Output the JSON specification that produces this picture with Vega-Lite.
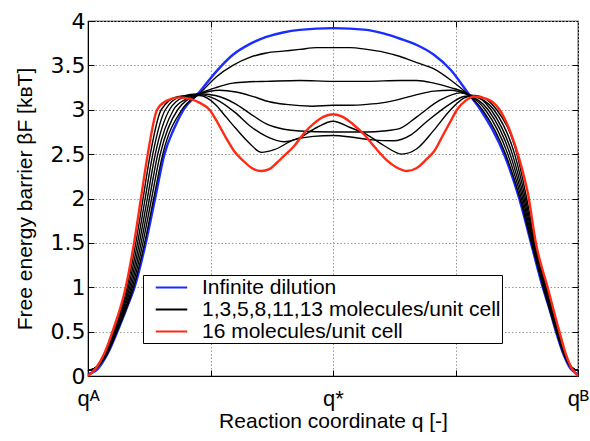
{
"$schema": "https://vega.github.io/schema/vega-lite/v6.json",
"width": 490, "height": 355,
"autosize": {"type": "none"},
"padding": {"left": 88, "top": 21, "right": 12, "bottom": 65},
"background": "white",
"config": {
 "font": "Liberation Sans",
 "view": {"stroke": "#000", "strokeWidth": 1.2},
 "axis": {"domainColor": "#000", "tickColor": "#000", "tickSize": -6, "labelColor": "#000", "titleColor": "#000", "titleFontWeight": "normal", "labelFontSize": 21, "titleFontSize": 21, "gridColor": "#999", "gridDash": [1.5, 2], "gridWidth": 1}
},
"datasets": {"d": [
{"s":"i","c":"blue","q":0,"F":0.02},{"s":"i","c":"blue","q":0.02,"F":0.08},{"s":"i","c":"blue","q":0.04,"F":0.25},{"s":"i","c":"blue","q":0.06,"F":0.5},{"s":"i","c":"blue","q":0.08,"F":0.78},{"s":"i","c":"blue","q":0.095,"F":1.0},{"s":"i","c":"blue","q":0.118,"F":1.5},{"s":"i","c":"blue","q":0.137,"F":2.0},{"s":"i","c":"blue","q":0.156,"F":2.5},{"s":"i","c":"blue","q":0.175,"F":2.78},{"s":"i","c":"blue","q":0.195,"F":3.0},{"s":"i","c":"blue","q":0.2275,"F":3.2},{"s":"i","c":"blue","q":0.2616,"F":3.43},{"s":"i","c":"blue","q":0.2957,"F":3.62},{"s":"i","c":"blue","q":0.33,"F":3.74},{"s":"i","c":"blue","q":0.364,"F":3.82},{"s":"i","c":"blue","q":0.398,"F":3.87},{"s":"i","c":"blue","q":0.432,"F":3.9},{"s":"i","c":"blue","q":0.5,"F":3.92},{"s":"i","c":"blue","q":0.569,"F":3.9},{"s":"i","c":"blue","q":0.603,"F":3.86},{"s":"i","c":"blue","q":0.637,"F":3.8},{"s":"i","c":"blue","q":0.671,"F":3.73},{"s":"i","c":"blue","q":0.706,"F":3.62},{"s":"i","c":"blue","q":0.74,"F":3.45},{"s":"i","c":"blue","q":0.774,"F":3.2},{"s":"i","c":"blue","q":0.801,"F":3.0},{"s":"i","c":"blue","q":0.825,"F":2.78},{"s":"i","c":"blue","q":0.849,"F":2.5},{"s":"i","c":"blue","q":0.88,"F":2.0},{"s":"i","c":"blue","q":0.904,"F":1.5},{"s":"i","c":"blue","q":0.928,"F":1.0},{"s":"i","c":"blue","q":0.942,"F":0.75},{"s":"i","c":"blue","q":0.955,"F":0.5},{"s":"i","c":"blue","q":0.97,"F":0.25},{"s":"i","c":"blue","q":0.985,"F":0.08},{"s":"i","c":"blue","q":1,"F":0.02},

{"s":"m","c":"k1","q":0,"F":0.06},{"s":"m","c":"k1","q":0.018,"F":0.1},{"s":"m","c":"k1","q":0.0393,"F":0.25},{"s":"m","c":"k1","q":0.059,"F":0.5},{"s":"m","c":"k1","q":0.0932,"F":1},{"s":"m","c":"k1","q":0.1156,"F":1.5},{"s":"m","c":"k1","q":0.1341,"F":2},{"s":"m","c":"k1","q":0.1526,"F":2.5},{"s":"m","c":"k1","q":0.1914,"F":3},{"s":"m","c":"k1","q":0.2275,"F":3.18},{"s":"m","c":"k1","q":0.2616,"F":3.37},{"s":"m","c":"k1","q":0.2957,"F":3.5},{"s":"m","c":"k1","q":0.33,"F":3.59},{"s":"m","c":"k1","q":0.364,"F":3.64},{"s":"m","c":"k1","q":0.398,"F":3.66},{"s":"m","c":"k1","q":0.432,"F":3.68},{"s":"m","c":"k1","q":0.467,"F":3.7},{"s":"m","c":"k1","q":0.5,"F":3.7},{"s":"m","c":"k1","q":0.535,"F":3.7},{"s":"m","c":"k1","q":0.569,"F":3.68},{"s":"m","c":"k1","q":0.603,"F":3.65},{"s":"m","c":"k1","q":0.637,"F":3.6},{"s":"m","c":"k1","q":0.671,"F":3.53},{"s":"m","c":"k1","q":0.706,"F":3.46},{"s":"m","c":"k1","q":0.74,"F":3.335},{"s":"m","c":"k1","q":0.774,"F":3.18},{"s":"m","c":"k1","q":0.8049,"F":3},{"s":"m","c":"k1","q":0.8521,"F":2.5},{"s":"m","c":"k1","q":0.8818,"F":2},{"s":"m","c":"k1","q":0.905,"F":1.5},{"s":"m","c":"k1","q":0.929,"F":1},{"s":"m","c":"k1","q":0.9557,"F":0.5},{"s":"m","c":"k1","q":0.9705,"F":0.25},{"s":"m","c":"k1","q":0.985,"F":0.1},{"s":"m","c":"k1","q":1,"F":0.06},

{"s":"m","c":"k2","q":0,"F":0.06},{"s":"m","c":"k2","q":0.018,"F":0.1},{"s":"m","c":"k2","q":0.0383,"F":0.25},{"s":"m","c":"k2","q":0.0575,"F":0.5},{"s":"m","c":"k2","q":0.0905,"F":1},{"s":"m","c":"k2","q":0.112,"F":1.5},{"s":"m","c":"k2","q":0.1298,"F":2},{"s":"m","c":"k2","q":0.1475,"F":2.5},{"s":"m","c":"k2","q":0.183,"F":3},{"s":"m","c":"k2","q":0.2275,"F":3.18},{"s":"m","c":"k2","q":0.2616,"F":3.25},{"s":"m","c":"k2","q":0.2957,"F":3.3},{"s":"m","c":"k2","q":0.33,"F":3.315},{"s":"m","c":"k2","q":0.364,"F":3.32},{"s":"m","c":"k2","q":0.432,"F":3.33},{"s":"m","c":"k2","q":0.5,"F":3.32},{"s":"m","c":"k2","q":0.569,"F":3.32},{"s":"m","c":"k2","q":0.637,"F":3.33},{"s":"m","c":"k2","q":0.671,"F":3.33},{"s":"m","c":"k2","q":0.706,"F":3.3},{"s":"m","c":"k2","q":0.74,"F":3.25},{"s":"m","c":"k2","q":0.774,"F":3.18},{"s":"m","c":"k2","q":0.8108,"F":3},{"s":"m","c":"k2","q":0.8567,"F":2.5},{"s":"m","c":"k2","q":0.8845,"F":2},{"s":"m","c":"k2","q":0.9065,"F":1.5},{"s":"m","c":"k2","q":0.9305,"F":1},{"s":"m","c":"k2","q":0.9567,"F":0.5},{"s":"m","c":"k2","q":0.9712,"F":0.25},{"s":"m","c":"k2","q":0.986,"F":0.1},{"s":"m","c":"k2","q":1,"F":0.06},

{"s":"m","c":"k3","q":0,"F":0.06},{"s":"m","c":"k3","q":0.018,"F":0.1},{"s":"m","c":"k3","q":0.0372,"F":0.25},{"s":"m","c":"k3","q":0.056,"F":0.5},{"s":"m","c":"k3","q":0.0878,"F":1},{"s":"m","c":"k3","q":0.1084,"F":1.5},{"s":"m","c":"k3","q":0.1254,"F":2},{"s":"m","c":"k3","q":0.1424,"F":2.5},{"s":"m","c":"k3","q":0.1746,"F":3},{"s":"m","c":"k3","q":0.2,"F":3.12},{"s":"m","c":"k3","q":0.2275,"F":3.18},{"s":"m","c":"k3","q":0.268,"F":3.22},{"s":"m","c":"k3","q":0.302,"F":3.2},{"s":"m","c":"k3","q":0.336,"F":3.15},{"s":"m","c":"k3","q":0.37,"F":3.09},{"s":"m","c":"k3","q":0.404,"F":3.06},{"s":"m","c":"k3","q":0.458,"F":3.04},{"s":"m","c":"k3","q":0.5,"F":3.05},{"s":"m","c":"k3","q":0.535,"F":3.05},{"s":"m","c":"k3","q":0.569,"F":3.06},{"s":"m","c":"k3","q":0.603,"F":3.08},{"s":"m","c":"k3","q":0.637,"F":3.12},{"s":"m","c":"k3","q":0.671,"F":3.17},{"s":"m","c":"k3","q":0.706,"F":3.21},{"s":"m","c":"k3","q":0.74,"F":3.22},{"s":"m","c":"k3","q":0.774,"F":3.17},{"s":"m","c":"k3","q":0.8166,"F":3},{"s":"m","c":"k3","q":0.8614,"F":2.5},{"s":"m","c":"k3","q":0.8872,"F":2},{"s":"m","c":"k3","q":0.908,"F":1.5},{"s":"m","c":"k3","q":0.932,"F":1},{"s":"m","c":"k3","q":0.9578,"F":0.5},{"s":"m","c":"k3","q":0.972,"F":0.25},{"s":"m","c":"k3","q":0.986,"F":0.1},{"s":"m","c":"k3","q":1,"F":0.06},

{"s":"m","c":"k4","q":0,"F":0.06},{"s":"m","c":"k4","q":0.018,"F":0.1},{"s":"m","c":"k4","q":0.0362,"F":0.25},{"s":"m","c":"k4","q":0.0545,"F":0.5},{"s":"m","c":"k4","q":0.0851,"F":1},{"s":"m","c":"k4","q":0.1048,"F":1.5},{"s":"m","c":"k4","q":0.1211,"F":2},{"s":"m","c":"k4","q":0.1373,"F":2.5},{"s":"m","c":"k4","q":0.1662,"F":3},{"s":"m","c":"k4","q":0.195,"F":3.14},{"s":"m","c":"k4","q":0.2275,"F":3.17},{"s":"m","c":"k4","q":0.26,"F":3.12},{"s":"m","c":"k4","q":0.3,"F":2.97},{"s":"m","c":"k4","q":0.33,"F":2.82},{"s":"m","c":"k4","q":0.364,"F":2.7},{"s":"m","c":"k4","q":0.4,"F":2.64},{"s":"m","c":"k4","q":0.43,"F":2.68},{"s":"m","c":"k4","q":0.467,"F":2.8},{"s":"m","c":"k4","q":0.5,"F":2.87},{"s":"m","c":"k4","q":0.535,"F":2.8},{"s":"m","c":"k4","q":0.569,"F":2.72},{"s":"m","c":"k4","q":0.603,"F":2.6},{"s":"m","c":"k4","q":0.641,"F":2.5},{"s":"m","c":"k4","q":0.671,"F":2.56},{"s":"m","c":"k4","q":0.706,"F":2.77},{"s":"m","c":"k4","q":0.74,"F":3},{"s":"m","c":"k4","q":0.767,"F":3.13},{"s":"m","c":"k4","q":0.785,"F":3.16},{"s":"m","c":"k4","q":0.8224,"F":3},{"s":"m","c":"k4","q":0.866,"F":2.5},{"s":"m","c":"k4","q":0.8899,"F":2},{"s":"m","c":"k4","q":0.9095,"F":1.5},{"s":"m","c":"k4","q":0.9335,"F":1},{"s":"m","c":"k4","q":0.9588,"F":0.5},{"s":"m","c":"k4","q":0.9727,"F":0.25},{"s":"m","c":"k4","q":0.987,"F":0.1},{"s":"m","c":"k4","q":1,"F":0.06},

{"s":"m","c":"k5","q":0,"F":0.06},{"s":"m","c":"k5","q":0.018,"F":0.1},{"s":"m","c":"k5","q":0.0351,"F":0.25},{"s":"m","c":"k5","q":0.053,"F":0.5},{"s":"m","c":"k5","q":0.0824,"F":1},{"s":"m","c":"k5","q":0.1012,"F":1.5},{"s":"m","c":"k5","q":0.1167,"F":2},{"s":"m","c":"k5","q":0.1322,"F":2.5},{"s":"m","c":"k5","q":0.1578,"F":3},{"s":"m","c":"k5","q":0.19,"F":3.15},{"s":"m","c":"k5","q":0.2275,"F":3.18},{"s":"m","c":"k5","q":0.26,"F":3.16},{"s":"m","c":"k5","q":0.3,"F":3.07},{"s":"m","c":"k5","q":0.33,"F":2.96},{"s":"m","c":"k5","q":0.364,"F":2.84},{"s":"m","c":"k5","q":0.4,"F":2.78},{"s":"m","c":"k5","q":0.432,"F":2.76},{"s":"m","c":"k5","q":0.5,"F":2.75},{"s":"m","c":"k5","q":0.569,"F":2.75},{"s":"m","c":"k5","q":0.603,"F":2.76},{"s":"m","c":"k5","q":0.637,"F":2.79},{"s":"m","c":"k5","q":0.671,"F":2.92},{"s":"m","c":"k5","q":0.719,"F":3.11},{"s":"m","c":"k5","q":0.76,"F":3.19},{"s":"m","c":"k5","q":0.785,"F":3.16},{"s":"m","c":"k5","q":0.8283,"F":3},{"s":"m","c":"k5","q":0.8707,"F":2.5},{"s":"m","c":"k5","q":0.8926,"F":2},{"s":"m","c":"k5","q":0.911,"F":1.5},{"s":"m","c":"k5","q":0.935,"F":1},{"s":"m","c":"k5","q":0.9599,"F":0.5},{"s":"m","c":"k5","q":0.9735,"F":0.25},{"s":"m","c":"k5","q":0.987,"F":0.1},{"s":"m","c":"k5","q":1,"F":0.06},

{"s":"m","c":"k6","q":0,"F":0.06},{"s":"m","c":"k6","q":0.018,"F":0.1},{"s":"m","c":"k6","q":0.0341,"F":0.25},{"s":"m","c":"k6","q":0.0515,"F":0.5},{"s":"m","c":"k6","q":0.0797,"F":1},{"s":"m","c":"k6","q":0.0976,"F":1.5},{"s":"m","c":"k6","q":0.1124,"F":2},{"s":"m","c":"k6","q":0.1271,"F":2.5},{"s":"m","c":"k6","q":0.1494,"F":3},{"s":"m","c":"k6","q":0.185,"F":3.15},{"s":"m","c":"k6","q":0.2275,"F":3.16},{"s":"m","c":"k6","q":0.26,"F":3.06},{"s":"m","c":"k6","q":0.28,"F":2.93},{"s":"m","c":"k6","q":0.3,"F":2.8},{"s":"m","c":"k6","q":0.33,"F":2.62},{"s":"m","c":"k6","q":0.354,"F":2.52},{"s":"m","c":"k6","q":0.38,"F":2.55},{"s":"m","c":"k6","q":0.42,"F":2.66},{"s":"m","c":"k6","q":0.46,"F":2.7},{"s":"m","c":"k6","q":0.5,"F":2.71},{"s":"m","c":"k6","q":0.54,"F":2.69},{"s":"m","c":"k6","q":0.58,"F":2.66},{"s":"m","c":"k6","q":0.623,"F":2.65},{"s":"m","c":"k6","q":0.66,"F":2.72},{"s":"m","c":"k6","q":0.692,"F":2.87},{"s":"m","c":"k6","q":0.74,"F":3.07},{"s":"m","c":"k6","q":0.767,"F":3.15},{"s":"m","c":"k6","q":0.79,"F":3.16},{"s":"m","c":"k6","q":0.8341,"F":3},{"s":"m","c":"k6","q":0.8753,"F":2.5},{"s":"m","c":"k6","q":0.8953,"F":2},{"s":"m","c":"k6","q":0.9125,"F":1.5},{"s":"m","c":"k6","q":0.9365,"F":1},{"s":"m","c":"k6","q":0.961,"F":0.5},{"s":"m","c":"k6","q":0.9742,"F":0.25},{"s":"m","c":"k6","q":0.987,"F":0.1},{"s":"m","c":"k6","q":1,"F":0.06},

{"s":"r","c":"red","q":0,"F":0},{"s":"r","c":"red","q":0.015,"F":0.08},{"s":"r","c":"red","q":0.033,"F":0.25},{"s":"r","c":"red","q":0.05,"F":0.5},{"s":"r","c":"red","q":0.077,"F":1},{"s":"r","c":"red","q":0.094,"F":1.5},{"s":"r","c":"red","q":0.108,"F":2},{"s":"r","c":"red","q":0.122,"F":2.5},{"s":"r","c":"red","q":0.141,"F":3},{"s":"r","c":"red","q":0.16,"F":3.1},{"s":"r","c":"red","q":0.186,"F":3.14},{"s":"r","c":"red","q":0.21,"F":3.12},{"s":"r","c":"red","q":0.2275,"F":3.08},{"s":"r","c":"red","q":0.248,"F":3.0},{"s":"r","c":"red","q":0.265,"F":2.85},{"s":"r","c":"red","q":0.282,"F":2.68},{"s":"r","c":"red","q":0.3,"F":2.52},{"s":"r","c":"red","q":0.316,"F":2.43},{"s":"r","c":"red","q":0.335,"F":2.34},{"s":"r","c":"red","q":0.354,"F":2.31},{"s":"r","c":"red","q":0.37,"F":2.33},{"s":"r","c":"red","q":0.385,"F":2.4},{"s":"r","c":"red","q":0.4,"F":2.48},{"s":"r","c":"red","q":0.419,"F":2.58},{"s":"r","c":"red","q":0.443,"F":2.75},{"s":"r","c":"red","q":0.46,"F":2.84},{"s":"r","c":"red","q":0.48,"F":2.92},{"s":"r","c":"red","q":0.5,"F":2.95},{"s":"r","c":"red","q":0.52,"F":2.92},{"s":"r","c":"red","q":0.54,"F":2.84},{"s":"r","c":"red","q":0.562,"F":2.73},{"s":"r","c":"red","q":0.585,"F":2.58},{"s":"r","c":"red","q":0.61,"F":2.43},{"s":"r","c":"red","q":0.63,"F":2.35},{"s":"r","c":"red","q":0.651,"F":2.31},{"s":"r","c":"red","q":0.67,"F":2.34},{"s":"r","c":"red","q":0.692,"F":2.45},{"s":"r","c":"red","q":0.706,"F":2.53},{"s":"r","c":"red","q":0.726,"F":2.73},{"s":"r","c":"red","q":0.74,"F":2.87},{"s":"r","c":"red","q":0.753,"F":3.0},{"s":"r","c":"red","q":0.77,"F":3.1},{"s":"r","c":"red","q":0.788,"F":3.15},{"s":"r","c":"red","q":0.815,"F":3.12},{"s":"r","c":"red","q":0.84,"F":3.0},{"s":"r","c":"red","q":0.862,"F":2.75},{"s":"r","c":"red","q":0.88,"F":2.45},{"s":"r","c":"red","q":0.898,"F":2.05},{"s":"r","c":"red","q":0.914,"F":1.5},{"s":"r","c":"red","q":0.938,"F":1},{"s":"r","c":"red","q":0.962,"F":0.5},{"s":"r","c":"red","q":0.975,"F":0.25},{"s":"r","c":"red","q":0.988,"F":0.08},{"s":"r","c":"red","q":1,"F":0}
]},
"data": {"name": "d"},
"layer": [
 {
  "transform": [{"filter": "datum.s=='i'"}],
  "mark": {"type": "line", "interpolate": "monotone", "strokeWidth": 2.4},
  "encoding": {
   "x": {"field": "q", "type": "quantitative", "scale": {"domain": [0, 1], "nice": false},
         "axis": {"values": [0, 0.25, 0.5, 0.75, 1], "labelExpr": "datum.value==0?'qᴬ':datum.value==0.5?'q*':datum.value==1?'qᴮ':''", "title": "Reaction coordinate q [-]", "grid": true, "labelPadding": 18, "titlePadding": 1, "labelFontSize": 22, "labelFlush": false}},
   "y": {"field": "F", "type": "quantitative", "scale": {"domain": [0, 4], "nice": false},
         "axis": {"values": [0, 0.5, 1, 1.5, 2, 2.5, 3, 3.5, 4], "format": "~g", "title": "Free energy barrier βF [kʙT]", "grid": true, "labelPadding": 9, "titlePadding": 15, "labelFont": "DejaVu Sans", "labelFontSize": 22}},
   "color": {"field": "s", "type": "nominal", "scale": {"domain": ["i", "m", "r"], "range": ["#1a2cff", "#000000", "#ff2a14"]},
     "legend": {"orient": "none", "legendX": 55, "legendY": 254, "title": null, "strokeColor": "#000", "fillColor": "#fff", "padding": 1, "rowPadding": -1, "symbolType": "M-1.5,0H1.5", "symbolSize": 441, "symbolStrokeWidth": 2, "symbolOffset": 16, "labelOffset": 19, "labelFontSize": 21, "labelLimit": 600, "labelColor": "#000",
       "labelExpr": "datum.value=='i'?'Infinite dilution':datum.value=='m'?'1,3,5,8,11,13 molecules/unit cell\u00a0\u00a0\u00a0':'16 molecules/unit cell'"}},
   "detail": {"field": "c"}
  }
 },
 {
  "transform": [{"filter": "datum.s=='m'"}],
  "mark": {"type": "line", "interpolate": "monotone", "strokeWidth": 1.4},
  "encoding": {
   "x": {"field": "q", "type": "quantitative", "axis": null},
   "y": {"field": "F", "type": "quantitative", "axis": null},
   "color": {"field": "s", "type": "nominal"},
   "detail": {"field": "c"}
  }
 },
 {
  "transform": [{"filter": "datum.s=='r'"}],
  "mark": {"type": "line", "interpolate": "monotone", "strokeWidth": 2.4},
  "encoding": {
   "x": {"field": "q", "type": "quantitative", "axis": null},
   "y": {"field": "F", "type": "quantitative", "axis": null},
   "color": {"field": "s", "type": "nominal"},
   "detail": {"field": "c"}
  }
 },
 {
  "transform": [{"filter": "datum.s=='i'"}],
  "mark": {"type": "line", "opacity": 0},
  "encoding": {
   "x": {"field": "q", "type": "quantitative", "axis": {"orient": "top", "values": [0.25, 0.5, 0.75], "labels": false, "grid": false, "title": null, "domain": false}},
   "y": {"field": "F", "type": "quantitative", "axis": {"orient": "right", "values": [0.5, 1, 1.5, 2, 2.5, 3, 3.5], "labels": false, "grid": false, "title": null, "domain": false}}
  }
 }
],
"resolve": {"axis": {"x": "independent", "y": "independent"}}
}
